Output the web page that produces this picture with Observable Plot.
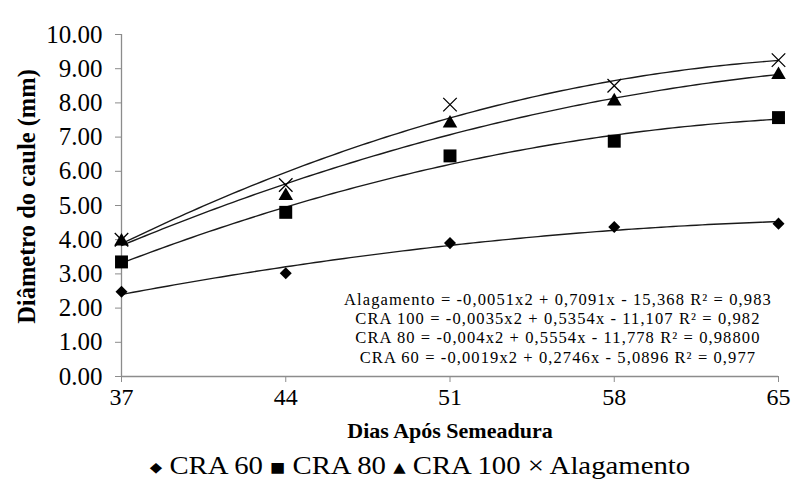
<!DOCTYPE html>
<html>
<head>
<meta charset="utf-8">
<script src="https://cdn.jsdelivr.net/npm/d3@7"></script>
<script src="https://cdn.jsdelivr.net/npm/@observablehq/plot@0.6"></script>
<style>
  html, body { margin: 0; padding: 0; background: #fff; }
  #chart { width: 794px; height: 485px; position: relative; font-family: 'Liberation Serif', 'Times New Roman', Tinos, 'DejaVu Serif', serif; }
  #legend { position: absolute; left: 0; top: 448px; width: 794px; height: 37px; line-height: 36px;
            text-align: center; font-size: 25px; color: #000; padding-left: 46px; box-sizing: border-box; white-space: nowrap;
            transform: scaleX(1.15); transform-origin: 420px 50%; }
  #legend .sym { font-family: 'DejaVu Sans', sans-serif; font-size: 14px; vertical-align: 2px; }
  #legend .times { font-family: 'Liberation Serif', 'Times New Roman', serif; font-size: 25px; vertical-align: 0; }
  #chart svg text { font-family: 'Liberation Serif', 'Times New Roman', Tinos, 'DejaVu Serif', serif; }
  #chart svg .eq text { letter-spacing: 1.1px; }
</style>
</head>
<body>
<div id="chart"><div id="legend"></div></div>
<script>
// ---- data ----
const days = [37, 44, 51, 58, 65];
const cra60 = [2.48, 3.02, 3.90, 4.37, 4.47];
const cra80 = [3.35, 4.80, 6.45, 6.88, 7.57];
const cra100 = [3.95, 5.28, 7.40, 8.05, 8.82];
const alagamento = [4.00, 5.60, 7.95, 8.50, 9.25];
const seriesNames = ["CRA 60", "CRA 80", "CRA 100", "Alagamento"];
const yTicks = [0, 1, 2, 3, 4, 5, 6, 7, 8, 9, 10];
const xTicks = [37, 44, 51, 58, 65];
const equations = [
  "Alagamento = -0,0051x2 + 0,7091x - 15,368 R² = 0,983",
  "CRA 100 = -0,0035x2 + 0,5354x - 11,107 R² = 0,982",
  "CRA 80 = -0,004x2 + 0,5554x - 11,778 R² = 0,98800",
  "CRA 60 = -0,0019x2 + 0,2746x - 5,0896 R² = 0,977"
];
const eqY = [2.24, 1.68, 1.12, 0.56];
const eqX = 55.6;
const xTitle = "Dias Após Semeadura";
const yTitle = "Diâmetro do caule (mm)";

// ---- build tables ----
const seriesValues = [cra60, cra80, cra100, alagamento];
const points = seriesValues.map((vals, i) => days.map((d, j) => ({day: d, value: vals[j], series: seriesNames[i]})));

// quadratic least-squares trend (as the spreadsheet's polynomial trendline)
function quadFit(xs, ys) {
  let n = xs.length, sx = 0, sx2 = 0, sx3 = 0, sx4 = 0, sy = 0, sxy = 0, sx2y = 0;
  for (let i = 0; i < n; i++) {
    const x = xs[i], y = ys[i];
    sx += x; sx2 += x*x; sx3 += x*x*x; sx4 += x*x*x*x;
    sy += y; sxy += x*y; sx2y += x*x*y;
  }
  const M = [[n, sx, sx2, sy], [sx, sx2, sx3, sxy], [sx2, sx3, sx4, sx2y]];
  for (let c = 0; c < 3; c++) {
    for (let r = c + 1; r < 3; r++) {
      const f = M[r][c] / M[c][c];
      for (let k = c; k < 4; k++) M[r][k] -= f * M[c][k];
    }
  }
  const b = [0, 0, 0];
  for (let r = 2; r >= 0; r--) {
    let s = M[r][3];
    for (let k = r + 1; k < 3; k++) s -= M[r][k] * b[k];
    b[r] = s / M[r][r];
  }
  return x => b[0] + b[1]*x + b[2]*x*x;
}
const trend = [];
seriesValues.forEach((vals, i) => {
  const f = quadFit(days, vals);
  d3.range(days[0], days[days.length-1] + 0.001, 0.25).forEach(x => trend.push({day: x, value: f(x), series: seriesNames[i]}));
});

// square diamond symbol
const squareDiamond = {
  draw(ctx, size) {
    const r = Math.sqrt(size / 2);
    ctx.moveTo(0, -r); ctx.lineTo(r, 0); ctx.lineTo(0, r); ctx.lineTo(-r, 0); ctx.closePath();
  }
};

const axisColor = "#8c8c8c";
const font = "'Liberation Serif', 'Times New Roman', Tinos, 'DejaVu Serif', serif";

const plot = Plot.plot({
  width: 794,
  height: 448,
  marginLeft: 121,
  marginRight: 16,
  marginTop: 34,
  marginBottom: 72,
  style: {fontFamily: font, color: "#000", background: "transparent"},
  x: {domain: [37, 65]},
  y: {domain: [0, 10]},
  marks: [
    Plot.axisY({ticks: yTicks, tickFormat: d => d.toFixed(2), tickSize: 6, tickPadding: 13, fontSize: 25, stroke: axisColor, fill: "#000", label: null}),
    Plot.axisX({ticks: xTicks, tickSize: 6, tickPadding: 5, fontSize: 24, stroke: axisColor, fill: "#000", label: null}),
    Plot.ruleX([37], {stroke: axisColor, strokeWidth: 1.3}),
    Plot.ruleY([0], {stroke: axisColor, strokeWidth: 1.3}),
    Plot.line(trend, {x: "day", y: "value", z: "series", stroke: "#1a1a1a", strokeWidth: 1.4}),
    Plot.dot(points[0], {x: "day", y: "value", symbol: squareDiamond, r: 4.8, fill: "#000"}),
    Plot.dot(points[1], {x: "day", y: "value", symbol: "square", r: 7.3, fill: "#000"}),
    Plot.dot(points[2], {x: "day", y: "value", symbol: "triangle", r: 5.4, fill: "#000"}),
    Plot.dot(points[3], {x: "day", y: "value", symbol: "times", r: 6.2, stroke: "#000", strokeWidth: 1.3, fill: "none"}),
    Plot.text(equations, {x: () => eqX, y: (d, i) => eqY[i], text: d => d, fontSize: 16.5, fill: "#000", textAnchor: "middle", className: "eq"}),
    Plot.text([xTitle], {frameAnchor: "bottom", dy: 61, text: d => d, fontSize: 22, fontWeight: "bold", fill: "#000"}),
    Plot.text([yTitle], {frameAnchor: "left", textAnchor: "middle", rotate: -90, dx: -94, dy: -9, text: d => d, fontSize: 24.5, fontWeight: "bold", fill: "#000"})
  ]
});
plot.style.position = "absolute";
plot.style.left = "0px";
plot.style.top = "0px";
document.getElementById("chart").appendChild(plot);

// legend
const legendSymbols = ["◆", "■", "▲", "×"];
const legend = d3.select("#legend");
seriesNames.forEach((name, i) => {
  legend.append("span").attr("class", i === 3 ? "sym times" : "sym").text(legendSymbols[i]);
  legend.append("span").text(" " + name + (i < 3 ? " " : ""));
});
</script>
</body>
</html>
